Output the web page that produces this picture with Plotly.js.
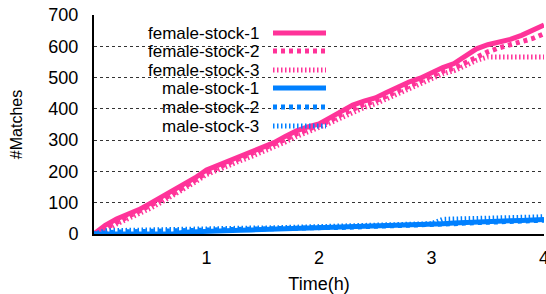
<!DOCTYPE html>
<html><head><meta charset="utf-8">
<script src="https://cdn.plot.ly/plotly-3.0.1.min.js"></script>
<style>html,body{margin:0;padding:0;background:#fff}#c{width:546px;height:294px}</style>
</head><body><div id="c"></div>
<script>
const hours = [0,0.1,0.2,0.3,0.4,0.5,0.6,0.7,0.8,0.9,1.0,1.1,1.2,1.3,1.4,1.5,1.6,1.7,1.8,1.9,2.0,2.1,2.2,2.3,2.4,2.5,2.6,2.7,2.8,2.9,3.0,3.1,3.2,3.3,3.4,3.5,3.6,3.7,3.8,3.9,4.0];
const femaleStock1 = [0,28,48,62,78,98,118,138,160,180,205,220,235,248,262,276,292,312,330,342,352,372,392,412,425,435,452,470,486,498,516,532,545,568,592,605,612,622,635,650,668];
const femaleStock2 = [0,18,38,54,70,88,108,128,150,172,195,212,227,240,254,268,284,302,320,334,345,362,382,400,414,425,440,458,474,488,505,520,530,548,568,582,595,605,615,625,640];
const femaleStock3 = [0,12,32,48,64,82,102,122,144,166,190,206,222,234,248,262,276,294,312,326,338,355,372,390,404,416,430,448,464,478,496,512,522,538,555,566,566,566,566,566,566];
const maleStock1 = [0,0,0,0,0,0,0,0,6,8,9,10,11,12,13,14,15,16,17,18,19,20,21,22,23,24,25,26,27,29,31,33,35,37,39,40,41,42,43,44,46];
const maleStock2 = [0,4,6,7,8,9,10,10,11,12,12,13,14,15,15,16,17,18,18,19,20,21,21,22,23,24,25,26,26,27,28,31,33,35,36,37,38,40,41,42,44];
const maleStock3 = [0,10,11,12,13,14,14,15,16,16,17,17,18,18,19,19,20,20,21,22,22,23,24,25,26,27,28,29,30,31,33,47,48,49,50,51,52,52,53,54,55];
const seriesNames = ["female-stock-1","female-stock-2","female-stock-3","male-stock-1","male-stock-2","male-stock-3"];
const yTicks = [0,100,200,300,400,500,600,700];
const xTicks = [1,2,3,4];

const PINK = "#ff3399", BLUE = "#0080ff";
const styles = [
  {color: PINK, dash: "solid"},
  {color: PINK, dash: "4px,4px"},
  {color: PINK, dash: "1.5px,2.5px"},
  {color: BLUE, dash: "solid"},
  {color: BLUE, dash: "4px,4px"},
  {color: BLUE, dash: "1.5px,2.5px"}
];
const values = [femaleStock1, femaleStock2, femaleStock3, maleStock1, maleStock2, maleStock3];

const traces = values.map((v, i) => ({
  x: hours, y: v, type: "scatter", mode: "lines", name: seriesNames[i],
  line: {color: styles[i].color, width: 5, dash: styles[i].dash},
  showlegend: false, cliponaxis: false
}));

const L = 94, R = 544, T = 15, B = 234;
const px = x => (x - L) / (R - L);
const py = y => (B - y) / (B - T);
const rowsY = [33, 51, 70, 88, 107, 126];
const shapes = [{
  type: "rect", xref: "paper", yref: "paper", layer: "between",
  x0: px(98), x1: px(335), y0: py(136), y1: py(21),
  fillcolor: "#ffffff", line: {width: 0}
}];
const annotations = [];
seriesNames.forEach((n, i) => {
  annotations.push({
    xref: "paper", yref: "paper", x: px(261), y: py(rowsY[i]),
    xanchor: "right", yanchor: "middle", text: n, showarrow: false,
    font: {family: "Liberation Sans, Arial, sans-serif", size: 17, color: "#000"}
  });
  shapes.push({
    type: "line", xref: "paper", yref: "paper", layer: "above",
    x0: px(273), x1: px(326), y0: py(rowsY[i]), y1: py(rowsY[i]),
    line: {color: styles[i].color, width: 5, dash: styles[i].dash}
  });
});

const font = {family: "Liberation Sans, Arial, sans-serif", size: 18, color: "#000"};
const layout = {
  width: 546, height: 294,
  margin: {l: L, r: 546 - R, t: T, b: 294 - B, pad: 0},
  paper_bgcolor: "#fff", plot_bgcolor: "#fff",
  font: font,
  showlegend: false,
  xaxis: {
    range: [0, 4], tickvals: xTicks, ticktext: xTicks.map(String),
    showgrid: false, zeroline: false, showline: true, linecolor: "#000", linewidth: 2,
    ticks: "", ticklabelstandoff: 6, ticklabeloverflow: "allow", tickfont: font,
    title: {text: "Time(h)", font: font, standoff: 11}
  },
  yaxis: {
    range: [0, 700], tickvals: yTicks, ticktext: yTicks.map(String),
    showgrid: true, gridcolor: "#333", gridwidth: 1, griddash: "dot",
    zeroline: false, showline: true, linecolor: "#000", linewidth: 2,
    ticks: "", ticklabelstandoff: 10, tickfont: font,
    title: {text: "#Matches", font: {family: font.family, size: 16, color: "#000"}, standoff: 22}
  },
  shapes: shapes,
  annotations: annotations
};
Plotly.newPlot("c", traces, layout, {displayModeBar: false, staticPlot: true});
</script></body></html>
